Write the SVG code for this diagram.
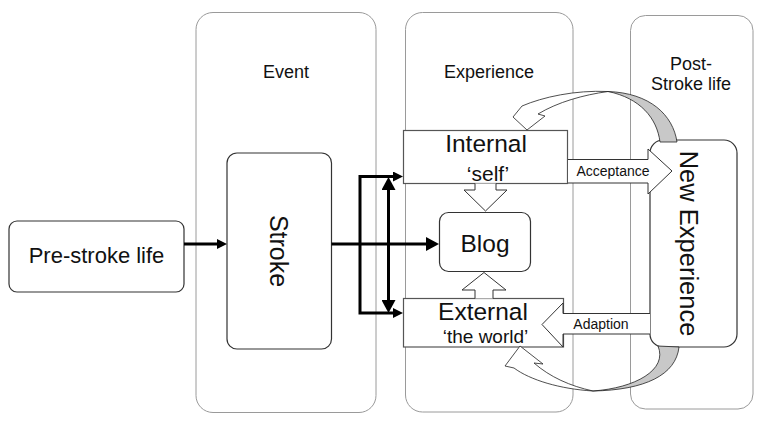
<svg xmlns="http://www.w3.org/2000/svg" width="763" height="423" viewBox="0 0 763 423">
<defs>
<style>
text{font-family:"Liberation Sans",Arial,sans-serif;fill:#111}
.col{fill:#fff;stroke:#9a9a9a;stroke-width:1}
.box{fill:#fff;stroke:#333;stroke-width:1.2}
.sq{fill:#fff;stroke:#555;stroke-width:1.2}
.hollow{fill:#fff;stroke:#333;stroke-width:1}
.thick{fill:none;stroke:#000;stroke-width:3}
.arcw{fill:#fff;stroke:#222;stroke-width:0.8}
.arcg{fill:#c8c8c8;stroke:#222;stroke-width:0.8}
.h18{font-size:18px;text-anchor:middle}
</style>
<marker id="ah" markerUnits="userSpaceOnUse" markerWidth="10" markerHeight="10" refX="5" refY="5" orient="auto-start-reverse" viewBox="0 0 10 10">
<path d="M0,0 L10,5 L0,10 z" fill="#000"/>
</marker>
<marker id="ahb" markerUnits="userSpaceOnUse" markerWidth="13" markerHeight="14" refX="7" refY="7" orient="auto-start-reverse" viewBox="0 0 13 14">
<path d="M0,0 L13,7 L0,14 z" fill="#000"/>
</marker>
</defs>
<rect width="763" height="423" fill="#fff"/>

<g id="col-event">
<rect class="col" x="196" y="12.5" width="180" height="400" rx="17"/>
<text class="h18" x="286" y="78">Event</text>
</g>
<g id="col-experience">
<rect class="col" x="405.5" y="12.5" width="167.5" height="399.5" rx="17"/>
<text class="h18" x="489" y="78">Experience</text>
</g>
<g id="col-post">
<rect class="col" x="630.5" y="15.5" width="122.5" height="393.5" rx="15"/>
<text class="h18" x="691" y="70">Post-</text>
<text class="h18" x="691" y="90">Stroke life</text>
</g>

<g id="pre-stroke">
<rect class="box" x="9" y="221" width="175" height="71" rx="8"/>
<text x="96.5" y="263" font-size="22" text-anchor="middle">Pre-stroke life</text>
</g>
<g id="stroke">
<rect class="box" x="227" y="153" width="104.5" height="196" rx="10"/>
<text transform="translate(270,251) rotate(90)" font-size="25" text-anchor="middle">Stroke</text>
</g>
<g id="internal">
<rect class="sq" x="403.5" y="130.5" width="164" height="53"/>
<text x="486" y="151.5" font-size="24.5" text-anchor="middle">Internal</text>
<text x="488" y="181" font-size="21" text-anchor="middle">‘self’</text>
</g>
<g id="external">
<rect class="sq" x="403.5" y="298.5" width="160" height="48.5"/>
<text x="483" y="320" font-size="24.5" text-anchor="middle">External</text>
<text x="485.5" y="343" font-size="19" text-anchor="middle">‘the world’</text>
</g>
<g id="blog">
<rect class="box" x="439.5" y="212.5" width="91" height="59" rx="9"/>
<text x="485" y="251.5" font-size="24.5" text-anchor="middle">Blog</text>
</g>
<g id="new-experience">
<rect class="box" x="650" y="140" width="87" height="207" rx="13"/>
<text transform="translate(680,243.5) rotate(90)" font-size="25.5" text-anchor="middle">New Experience</text>
</g>

<g id="connectors">
<line class="thick" x1="184" y1="244" x2="222" y2="244" marker-end="url(#ah)"/>
<line class="thick" x1="331.5" y1="244" x2="433" y2="244" marker-end="url(#ahb)"/>
<path class="thick" d="M398 176.5 L360 176.5 L360 313 L398 313" marker-start="url(#ah)" marker-end="url(#ah)"/>
<line class="thick" x1="388.5" y1="183" x2="388.5" y2="307" marker-start="url(#ahb)" marker-end="url(#ahb)"/>

<path class="hollow" d="M475 183.5 L475 190 L464 190 L485.5 211 L507 190 L496 190 L496 183.5"/>
<path class="hollow" d="M475 298.5 L475 290 L462 290 L484 272.5 L506 290 L493 290 L493 298.5"/>

<path class="hollow" d="M568 159.5 L648 159.5 L648 149 L672 171 L648 194 L648 183 L568 183"/>
<text x="613" y="176" font-size="14" text-anchor="middle">Acceptance</text>

<path class="hollow" d="M650 313.5 L563 313.5 L563 303 L542 324.5 L563 347 L563 334 L650 334"/>
<text x="601" y="329" font-size="14" text-anchor="middle">Adaption</text>

<path class="arcg" d="M677 142 C673 115 650 93 608 91.5 C640 98 657 118 660 142 Z"/>
<path class="arcw" d="M608 91.5 C575 90 543 97 522 106 L513 117 L527 130 L545 116 L538 114 C558 102 583 95 608 91.5 Z"/>

<path class="arcg" d="M679 347 C676 375 645 390 593 391 C635 388 668 370 658 346 Z"/>
<path class="arcw" d="M593 391 C560 389 530 380 514 368 L505 366 L520 346 L543 364 L534 363 C550 377 570 386 593 391 Z"/>
</g>
</svg>
